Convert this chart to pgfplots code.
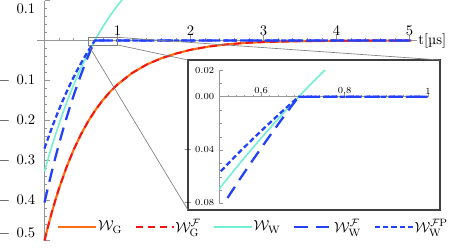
\documentclass[border=0pt]{standalone}
\usepackage{pgfplots}
\pgfplotsset{compat=1.18}
\usepackage{pgfplotstable}
\definecolor{cOr}{RGB}{255,110,20}
\definecolor{cRd}{RGB}{245,20,20}
\definecolor{cCy}{RGB}{115,240,210}
\definecolor{cBl}{RGB}{35,65,250}
\definecolor{cAx}{RGB}{150,150,150}

\pgfplotstableread{
t y
0 -0.5
0.05 -0.4635
0.1 -0.4297
0.15 -0.3984
0.2 -0.3693
0.3 -0.3174
0.4 -0.2728
0.5 -0.2344
0.6 -0.2014
0.7 -0.1731
0.8 -0.1488
0.9 -0.1279
1.0 -0.1099
1.2 -0.0812
1.4 -0.0600
1.6 -0.0443
1.8 -0.0327
2.0 -0.0232
2.25 -0.0150
2.5 -0.0095
2.75 -0.0060
3.0 -0.0038
3.5 -0.0016
4.0 -0.0007
4.5 -0.0003
5.03 -0.0001
}\dataG

\pgfplotstableread{
t y
0 -0.3270
0.05 -0.2950
0.1 -0.2646
0.15 -0.2356
0.2 -0.2081
0.25 -0.1819
0.3 -0.1570
0.35 -0.1332
0.4 -0.1107
0.45 -0.0893
0.5 -0.0688
0.525 -0.0590
0.55 -0.0494
0.575 -0.0401
0.6 -0.0310
0.625 -0.0221
0.65 -0.0134
0.675 -0.0050
0.69 0.0000
0.7 0.0033
0.725 0.0113
0.75 0.0192
0.775 0.0268
0.8 0.0343
0.85 0.0487
0.9 0.0624
1.0 0.0877
1.1 0.1107
1.2 0.1315
}\dataWW

\pgfplotstableread{
t y
0 -0.4050
0.05 -0.3654
0.1 -0.3277
0.15 -0.2918
0.2 -0.2577
0.25 -0.2253
0.3 -0.1944
0.35 -0.1650
0.4 -0.1371
0.45 -0.1106
0.5 -0.0853
0.525 -0.0731
0.55 -0.0612
0.575 -0.0497
0.6 -0.0384
0.625 -0.0274
0.65 -0.0166
0.675 -0.0061
0.69 0
5.05 0
}\dataWF

\pgfplotstableread{
t y
0 -0.2700
0.05 -0.2436
0.1 -0.2185
0.15 -0.1945
0.2 -0.1718
0.25 -0.1502
0.3 -0.1296
0.35 -0.1100
0.4 -0.0914
0.45 -0.0737
0.5 -0.0569
0.525 -0.0487
0.55 -0.0408
0.575 -0.0331
0.6 -0.0256
0.625 -0.0183
0.65 -0.0111
0.675 -0.0041
0.69 0
5.05 0
}\dataWFP

\begin{document}
\begin{tikzpicture}
\useasboundingbox (-27.9pt,-6.4pt) rectangle (311.85pt,180.4pt);
\begin{axis}[
  at={(0pt,0pt)}, anchor=south west,
  scale only axis, width=284.7pt, height=180pt,
  xmin=-0.1, xmax=5.1, ymin=-0.5, ymax=0.1,
  enlargelimits=false,
  scaled ticks=false,
  axis lines=middle,
  axis line style={-, draw=cAx, line width=0.5pt},
  xtick={1,2,3,4,5}, xticklabels={1,2,3,4,5},
  minor xtick={0.2,0.4,...,5.0},
  ytick={-0.5,-0.4,-0.3,-0.2,-0.1,0.1},
  yticklabels={\raisebox{6pt}[7.1pt][0pt]{$-\;\,0.5$},$-\;\,0.4$,$-\;\,0.3$,$-\;\,0.2$,$-\;\,0.1$,\raisebox{-6.4pt}[7.1pt][0pt]{$0.1$}},
  minor ytick={-0.5,-0.48,...,0.1},
  tick style={draw=cAx, line width=0.4pt},
  major tick length=4pt, minor tick length=2pt,
  tick align=inside,
  tick label style={font=\fontsize{10.95}{13}\selectfont},
  xticklabel style={anchor=south, yshift=0pt},
  yticklabel style={anchor=east, xshift=-3.4pt},
  xlabel={t[\textmu s]},
  every axis x label/.style={at={(current axis.right of origin)}, anchor=west, inner sep=1pt, font=\fontsize{10.95}{13}\selectfont},
  legend columns=5,
  legend cell align=left,
  legend image code/.code={\draw[#1] (0pt,0pt) -- (28.5pt,0pt);},
  legend style={at={(rel axis cs:0.052,0.0565)}, anchor=west, draw=none, fill=none,
    inner xsep=0pt, inner ysep=0pt,
    font=\fontsize{10.95}{13}\selectfont,
    nodes={inner sep=0.6pt},
    /tikz/every even column/.append style={column sep=8.8pt}},
]
\addplot[cOr, line width=1.6pt, no markers] table[x=t,y=y] {\dataG};
\addlegendentry{$\mathcal{W}_{\mathrm{G}}$}
\addplot[cRd, line width=1.4pt, dash pattern=on 5.5pt off 3.5pt, no markers] table[x=t,y=y] {\dataG};
\addlegendentry{$\mathcal{W}^{\mathcal{F}}_{\mathrm{G}}$}
\addplot[cCy, line width=1.2pt, no markers] table[x=t,y=y] {\dataWW};
\addlegendentry{$\mathcal{W}_{\mathrm{W}}$}
\addplot[cBl, line width=1.7pt, dash pattern=on 10pt off 6pt, no markers] table[x=t,y=y] {\dataWF};
\addlegendentry{$\mathcal{W}^{\mathcal{F}}_{\mathrm{W}}$}
\addplot[cBl, line width=1.7pt, dash pattern=on 4pt off 2.2pt, no markers] table[x=t,y=y] {\dataWFP};
\addlegendentry{$\mathcal{W}^{\mathcal{F}\mathrm{P}}_{\mathrm{W}}$}
\end{axis}

\fill[white] (113.1pt,22.9pt) rectangle (302.1pt,135.4pt);
\draw[black!75, line width=0.9pt] (113.1pt,22.9pt) rectangle (302.1pt,135.4pt);
\draw[gray, line width=0.5pt] (38.3pt,146.7pt) rectangle (60.2pt,152.4pt);
\draw[gray, line width=0.5pt] (60.2pt,152.4pt) -- (302.1pt,135.4pt);
\draw[gray, line width=0.5pt] (60.2pt,146.7pt) -- (113.1pt,135.4pt);
\draw[gray, line width=0.5pt] (38.3pt,146.7pt) -- (113.1pt,22.9pt);

\begin{axis}[
  at={(136.7pt,27.75pt)}, anchor=south west,
  scale only axis, width=156.4pt, height=100.1pt,
  xmin=0.5, xmax=1.0, ymin=-0.08, ymax=0.02,
  enlargelimits=false,
  scaled ticks=false,
  axis x line=middle, axis y line=left,
  axis line style={-, draw=cAx, line width=0.5pt},
  xtick={0.6,0.8,1}, xticklabels={0.6,0.8,1},
  minor xtick={0.52,0.54,...,1.0},
  ytick={-0.08,-0.04,0,0.02},
  yticklabels={$-\;0.08$,$-\;0.04$,$0.00$,$0.02$},
  minor ytick={-0.08,-0.07,...,0.02},
  tick style={draw=cAx, line width=0.4pt},
  major tick length=3pt, minor tick length=1.6pt,
  tick align=inside,
  tick label style={font=\fontsize{7}{8.5}\selectfont},
  xticklabel style={anchor=south, yshift=-1.5pt},
  yticklabel style={anchor=east, xshift=-0.4pt},
]
\addplot[cCy, line width=1.2pt, no markers] table[x=t,y=y] {\dataWW};
\addplot[cBl, line width=1.7pt, dash pattern=on 10pt off 6pt, no markers] table[x=t,y=y] {\dataWF};
\addplot[cBl, line width=1.7pt, dash pattern=on 4pt off 2.2pt, no markers] table[x=t,y=y] {\dataWFP};
\end{axis}
\end{tikzpicture}
\end{document}
